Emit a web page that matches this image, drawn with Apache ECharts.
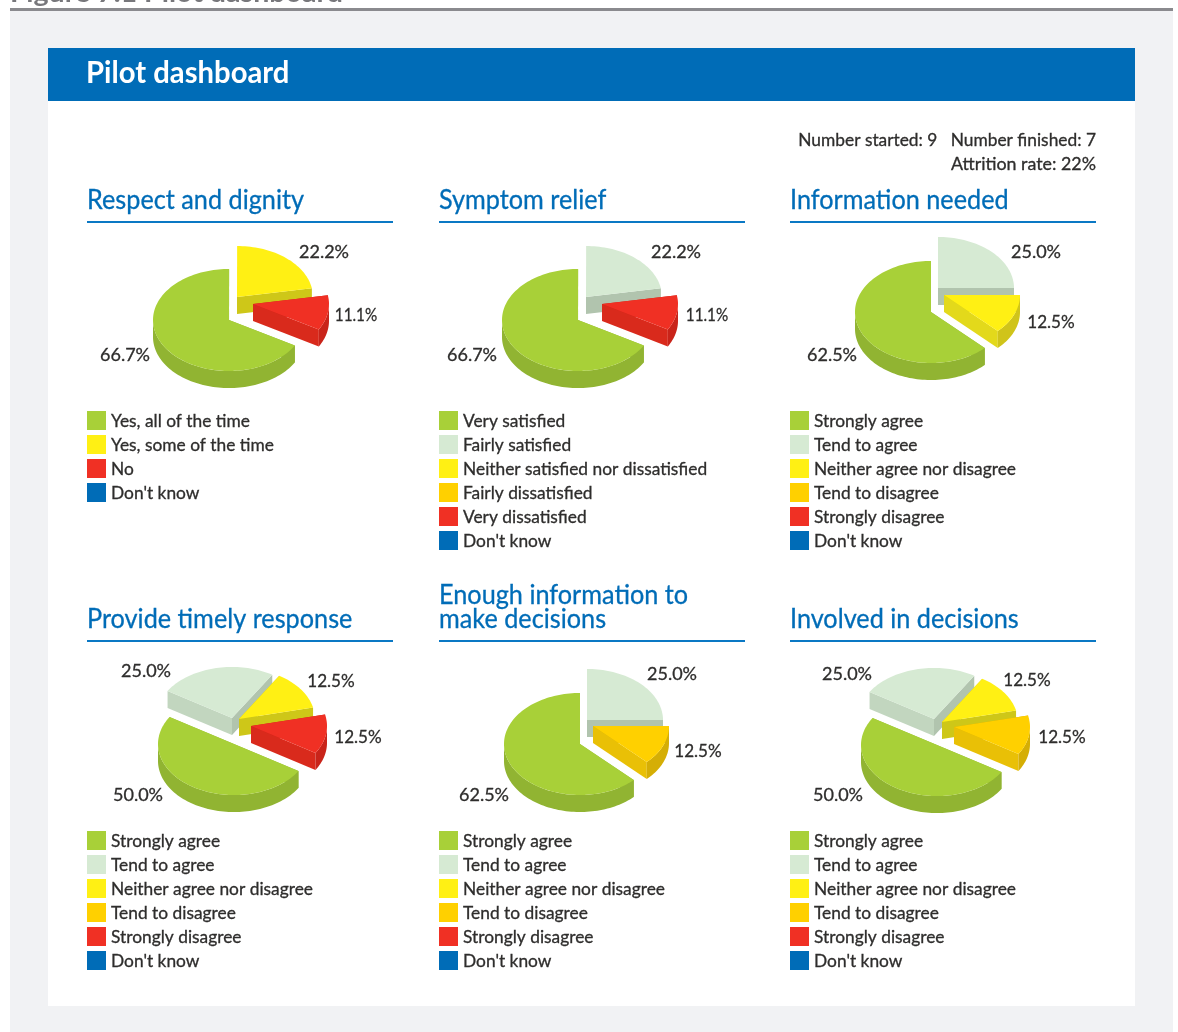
<!DOCTYPE html>
<html>
<head>
<meta charset="utf-8">
<title>Pilot dashboard</title>
<script src="https://cdn.jsdelivr.net/npm/echarts@6/dist/echarts.min.js"></script>
<style>
  html, body { margin: 0; padding: 0; background: #fff; }
  #chart { width: 1178px; height: 1032px; }
</style>
</head>
<body>
<div id="chart"></div>
<script>
// data
const satisfactionCategories = ['Very satisfied', 'Fairly satisfied', 'Neither satisfied nor dissatisfied', 'Fairly dissatisfied', 'Very dissatisfied', "Don't know"];
const agreeCategories = ['Strongly agree', 'Tend to agree', 'Neither agree nor disagree', 'Tend to disagree', 'Strongly disagree', "Don't know"];
const respectCategories = ['Yes, all of the time', 'Yes, some of the time', 'No', "Don't know"];

const respectValues = [66.7, 22.2, 11.1, 0];
const symptomValues = [66.7, 22.2, 0, 0, 11.1, 0];
const informationValues = [62.5, 25.0, 12.5, 0, 0, 0];
const timelyValues = [50.0, 25.0, 12.5, 0, 12.5, 0];
const enoughValues = [62.5, 25.0, 0, 12.5, 0, 0];
const involvedValues = [50.0, 25.0, 12.5, 12.5, 0, 0];

// colours: top, radial wall (left facing), radial wall (right facing), outer wall
const shades = {
    green:  ['#a8d038', '#97ba34', '#91b432', '#91b432'],
    light:  ['#d6ead3', '#c2d6bf', '#b1c4ae', '#b1c4ae'],
    yellow: ['#fff014', '#e3d91b', '#cec718', '#d0c41a'],
    gold:   ['#ffd000', '#e9c006', '#d5ae05', '#d5ae05'],
    red:    ['#f03024', '#d92a1c', '#c9241a', '#c9241a'],
    blue:   ['#006cb7', '#006cb7', '#006cb7', '#006cb7']
};
const fullKeys = ['green', 'light', 'yellow', 'gold', 'red', 'blue'];
const respectKeys = ['green', 'yellow', 'red', 'blue'];

const FONT = 'Lato, "Noto Sans", sans-serif';
const INK = '#2e2d2c';
const BLUE = '#006cb7';
const RX = 76, RY = 51, DEPTH = 17;

// layout of each panel; apex holds one [x, y] per category, null when the slice is empty
const panels = [
    { title: ['Respect and dignity'], x: 87, ruleY: 222, legendY: 411, cats: respectCategories, keys: respectKeys, values: respectValues, start: 120,
      apex: [[229, 320], [237, 297], [253, 304], null],
      labels: [[125, 355], [324, 252], [356, 315], null] },
    { title: ['Symptom relief'], x: 439, ruleY: 222, legendY: 411, cats: satisfactionCategories, keys: fullKeys, values: symptomValues, start: 120,
      apex: [[578, 320], [586, 297], null, null, [602, 304], null],
      labels: [[472, 355], [676, 252], null, null, [707, 315], null] },
    { title: ['Information needed'], x: 790, ruleY: 222, legendY: 411, cats: agreeCategories, keys: fullKeys, values: informationValues, start: 135,
      apex: [[931, 312], [938, 288], [944, 295], null, null, null],
      labels: [[832, 355], [1036, 252], [1051, 322], null, null, null] },
    { title: ['Provide timely response'], x: 87, ruleY: 641, legendY: 831, cats: agreeCategories, keys: fullKeys, values: timelyValues, start: 122,
      apex: [[234, 744], [232, 718], [239, 719], null, [251, 726], null],
      labels: [[138, 795], [146, 671], [331, 681], null, [358, 737], null] },
    { title: ['Enough information to', 'make decisions'], x: 439, ruleY: 641, legendY: 831, cats: agreeCategories, keys: fullKeys, values: enoughValues, start: 135,
      apex: [[580, 744], [587, 720], null, [593, 726], null, null],
      labels: [[484, 795], [672, 674], null, [698, 751], null, null] },
    { title: ['Involved in decisions'], x: 790, ruleY: 641, legendY: 831, cats: agreeCategories, keys: fullKeys, values: involvedValues, start: 122,
      apex: [[937, 745], [934, 719], [942, 722], [954, 727], null, null],
      labels: [[838, 795], [847, 674], [1027, 680], [1062, 737], null, null] }
];

function pt(c, deg, dy) {
    const a = deg * Math.PI / 180;
    return [c[0] + RX * Math.sin(a), c[1] - RY * Math.cos(a) + (dy || 0)];
}

function arcPoints(c, from, to, dy) {
    const pts = [];
    const n = Math.max(2, Math.ceil((to - from) / 2));
    for (let i = 0; i <= n; i++) pts.push(pt(c, from + (to - from) * i / n, dy));
    return pts;
}

function poly(points, fill) {
    return { type: 'polygon', shape: { points: points }, style: { fill: fill } };
}

function radialWall(c, deg, s) {
    const p = pt(c, deg);
    const norm = ((deg % 360) + 360) % 360;
    const fill = norm <= 100 ? s[2] : s[1];
    return { y: p[1], el: poly([c, p, [p[0], p[1] + DEPTH], [c[0], c[1] + DEPTH]], fill) };
}

function sliceElements(c, from, to, s) {
    const children = [];
    // radial walls, the one lower on the page last
    const walls = [radialWall(c, from, s), radialWall(c, to, s)].sort((a, b) => a.y - b.y);
    walls.forEach(w => children.push(w.el));
    // outer wall, only the part of the rim that faces the viewer
    [[90, 270], [450, 630]].forEach(r => {
        const a = Math.max(from, r[0]), b = Math.min(to, r[1]);
        if (b > a) {
            const top = arcPoints(c, a, b, 0);
            const bottom = arcPoints(c, a, b, DEPTH).reverse();
            children.push(poly(top.concat(bottom), s[3]));
        }
    });
    children.push(poly([c].concat(arcPoints(c, from, to, 0)), s[0]));
    return children;
}

function pieSeries(panel) {
    const total = panel.values.reduce((a, b) => a + b, 0);
    const rows = [];
    let angle = panel.start;
    panel.values.forEach((v, i) => {
        const sweep = v / total * 360;
        if (v > 0) rows.push({ value: [v, i], from: angle, to: angle + sweep });
        angle += sweep;
    });
    // paint the slices from the back of the picture to the front
    rows.sort((a, b) => panel.apex[a.value[1]][1] - panel.apex[b.value[1]][1]);
    return {
        type: 'custom',
        coordinateSystem: 'none',
        silent: true,
        animation: false,
        data: rows.map(r => ({ value: r.value })),
        renderItem: function (params, api) {
            const r = rows[params.dataIndex];
            const idx = api.value(1);
            const s = shades[panel.keys[idx]];
            const label = panel.labels[idx];
            const children = sliceElements(panel.apex[idx], r.from, r.to, s);
            const text = api.value(0).toFixed(1) + '%';
            // Lato's ones are wide, the picture's are narrow
            const ones = text.split('1').length - 1;
            const el = txt(text, label[0], label[1], '18px ' + FONT, INK, 'center', 1 - 0.05 * ones, 0.3);
            el.z2 = 10;
            children.push(el);
            return { type: 'group', children: children };
        }
    };
}

function txt(text, x, y, font, fill, align, scaleX, weight) {
    return {
        type: 'text',
        silent: true,
        x: x,
        y: y,
        scaleX: scaleX || 1,
        style: {
            text: text, x: 0, y: 0, font: font, fill: fill,
            align: align || 'left', verticalAlign: 'middle',
            stroke: weight ? fill : null, lineWidth: weight || 0
        }
    };
}

function rect(x, y, w, h, fill) {
    return { type: 'rect', silent: true, shape: { x: x, y: y, width: w, height: h }, style: { fill: fill } };
}

const page = [
    rect(10, 10, 1163, 1022, '#f1f2f4'),
    rect(48, 48, 1087, 958, '#ffffff'),
    rect(48, 48, 1087, 53, BLUE),
    rect(10, 8, 1163, 3, '#8a8a8e'),
    txt('Figure 7.1 Pilot dashboard', 10, -6, 'bold 26px ' + FONT, '#77777b', 'left', 1.1),
    txt('Pilot dashboard', 86, 73, 'bold 30px ' + FONT, '#ffffff', 'left', 0.975),
    txt('Number started: 9   Number finished: 7', 1096, 141, '17px ' + FONT, INK, 'right', 1.02, 0.3),
    txt('Attrition rate: 22%', 1096, 165, '17px ' + FONT, INK, 'right', 1.05, 0.3)
];

panels.forEach(panel => {
    page.push(rect(panel.x, panel.ruleY - 1, 306, 2, '#0a78c4'));
    panel.title.forEach((line, i) => {
        const y = panel.ruleY - 22 - (panel.title.length - 1 - i) * 24;
        page.push(txt(line, panel.x, y, '27px ' + FONT, BLUE, 'left', 0.935, 0.3));
    });
    panel.cats.forEach((name, i) => {
        const y = panel.legendY + i * 24;
        page.push(rect(panel.x, y, 19, 19, shades[panel.keys[i]][0]));
        page.push(txt(name, panel.x + 24, y + 11, '17px ' + FONT, INK, 'left', 1.02, 0.3));
    });
});

const chart = echarts.init(document.getElementById('chart'), null, { renderer: 'canvas' });
chart.setOption({
    animation: false,
    graphic: { elements: page },
    series: panels.map(pieSeries)
});
</script>
</body>
</html>
